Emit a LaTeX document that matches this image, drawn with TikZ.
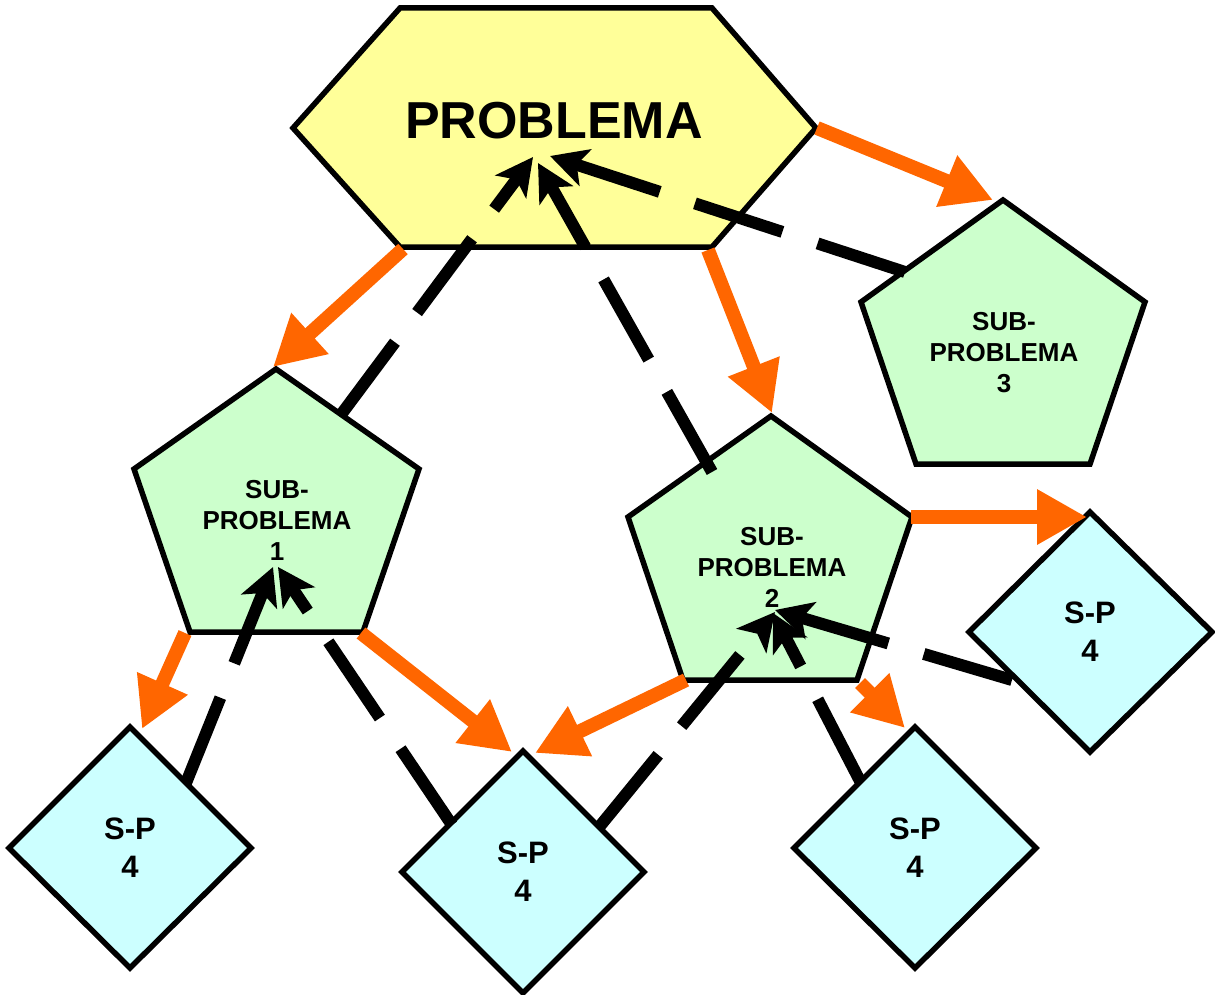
\documentclass[tikz,border=0pt]{standalone}
\usepackage{fontspec}
\setmainfont{Liberation Sans}
\usetikzlibrary{arrows.meta}
\definecolor{probyellow}{HTML}{FFFF99}
\definecolor{subgreen}{HTML}{CCFFCC}
\definecolor{spcyan}{HTML}{CCFFFF}
\definecolor{arrorange}{HTML}{FF6600}
\begin{document}
\begin{tikzpicture}[x=1pt,y=-1pt,
  outline/.style={draw=black,line width=5.5pt,line join=miter},
  hexshape/.style={outline,fill=probyellow},
  pentshape/.style={outline,fill=subgreen},
  diamshape/.style={outline,fill=spcyan},
  bigtext/.style={inner sep=0pt,font=\fontsize{52}{60}\selectfont\bfseries},
  subtext/.style={inner sep=0pt,align=center,font=\fontsize{26}{31}\selectfont\bfseries},
  sptext/.style={inner sep=0pt,align=center,font=\fontsize{31}{38}\selectfont\bfseries},
  splitarrow/.style={draw=arrorange,line width=14pt,
    -{Triangle[length=50pt,width=52pt]}},
  mergearrow/.style={draw=black,line width=12pt,dash pattern=on 92pt off 37pt,
    -{Stealth[length=37pt,width=38pt,inset=9pt]}},
]
\useasboundingbox (0,0) rectangle (1215,995);
\fill[white] (0,0) rectangle (1215,995);

% main problem
\draw[hexshape] (400,8) -- (712,8) -- (816,128) -- (712,247) -- (400,247) -- (293,128) -- cycle;
\node[bigtext] (prob) at (554,121) {PROBLEMA};

% sub-problems
\draw[pentshape] (276,369) -- (419,469) -- (363,632) -- (190,632) -- (134,469) -- cycle;
\node[subtext] (sub1) at (277,520) {SUB-\\PROBLEMA\\1};
\draw[pentshape] (771,416) -- (912,517) -- (857,680) -- (683,680) -- (628,517) -- cycle;
\node[subtext] (sub2) at (772,567) {SUB-\\PROBLEMA\\2};
\draw[pentshape] (1003,200) -- (1145,302) -- (1090,464) -- (916,464) -- (861,302) -- cycle;
\node[subtext] (sub3) at (1004,353) {SUB-\\PROBLEMA\\3};

% smaller sub-problems
\draw[diamshape] (130,727) -- (251,848) -- (130,968) -- (9,848) -- cycle;
\node[sptext] (spa) at (130,848) {S-P\\4};
\draw[diamshape] (523,751) -- (644,872) -- (523,993) -- (402,872) -- cycle;
\node[sptext] (spb) at (523,872) {S-P\\4};
\draw[diamshape] (915,727) -- (1036,848) -- (915,968) -- (794,848) -- cycle;
\node[sptext] (spc) at (915,848) {S-P\\4};
\draw[diamshape] (1090,512) -- (1212,632) -- (1090,752) -- (969,632) -- cycle;
\node[sptext] (spd) at (1090,632) {S-P\\4};

% end points of the decomposition arrows
\coordinate (hexR)   at (817,128);
\coordinate (toS3)   at (993,200);
\coordinate (hexBL)  at (403,249);
\coordinate (toS1)   at (273,367);
\coordinate (hexBR)  at (708,250);
\coordinate (toS2)   at (772,413);
\coordinate (s2R)    at (911,517);
\coordinate (toSPd)  at (1087,517);
\coordinate (s1BL)   at (185,633);
\coordinate (toSPa)  at (142,729);
\coordinate (s1BR)   at (361,633);
\coordinate (toSPbL) at (512,752);
\coordinate (s2BL)   at (686,680);
\coordinate (toSPbR) at (535,753);
\coordinate (s2BR)   at (860,683);
\coordinate (toSPc)  at (905,728);

% end points of the recomposition arrows
\coordinate (frS1)   at (340,416);
\coordinate (inPa)   at (533,157);
\coordinate (frS2)   at (712,472);
\coordinate (inPb)   at (538,163);
\coordinate (frS3)   at (905,272);
\coordinate (inPc)   at (550,156);
\coordinate (frSPa)  at (186,783);
\coordinate (in1a)   at (273,567);
\coordinate (frSPbL) at (452,825);
\coordinate (in1b)   at (278,567);
\coordinate (frSPbR) at (600,826);
\coordinate (in2a)   at (775,612);
\coordinate (frSPc)  at (860,781);
\coordinate (in2b)   at (773,613);
\coordinate (frSPd)  at (1012,680);
\coordinate (in2c)   at (775,610);

% decomposition
\draw[splitarrow] (hexR) -- (toS3);
\draw[splitarrow] (hexBL) -- (toS1);
\draw[splitarrow] (hexBR) -- (toS2);
\draw[splitarrow] (s2R) -- (toSPd);
\draw[splitarrow] (s1BL) -- (toSPa);
\draw[splitarrow] (s1BR) -- (toSPbL);
\draw[splitarrow] (s2BL) -- (toSPbR);
\draw[splitarrow] (s2BR) -- (toSPc);

% recomposition
\draw[mergearrow] (frS1) -- (inPa);
\draw[mergearrow] (frS2) -- (inPb);
\draw[mergearrow] (frS3) -- (inPc);
\draw[mergearrow] (frSPa) -- (in1a);
\draw[mergearrow] (frSPbL) -- (in1b);
\draw[mergearrow] (frSPbR) -- (in2a);
\draw[mergearrow] (frSPc) -- (in2b);
\draw[mergearrow] (frSPd) -- (in2c);
\end{tikzpicture}
\end{document}
